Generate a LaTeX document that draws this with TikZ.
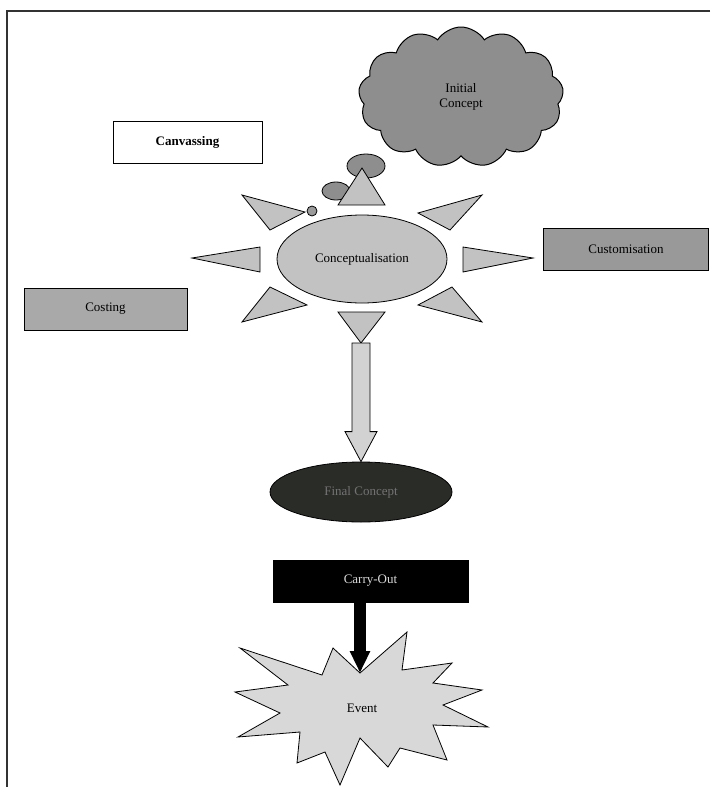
\documentclass[tikz,border=0pt]{standalone}
\usepackage{fontspec}
\setmainfont{Liberation Serif}
\usetikzlibrary{shapes.geometric,shapes.symbols,arrows.meta,calc}
\definecolor{cloudgray}{HTML}{8E8E8E}
\definecolor{raygray}{HTML}{C2C2C2}
\definecolor{boxgray}{HTML}{A9A9A9}
\definecolor{custgray}{HTML}{999999}
\definecolor{darkfill}{HTML}{2A2C28}
\definecolor{eventgray}{HTML}{D8D8D8}
\definecolor{arrowgray}{HTML}{D2D2D2}
\begin{document}
\begin{tikzpicture}[x=1pt,y=-1pt,
  font=\fontsize{13}{15}\selectfont,
  outline/.style={draw=black, line width=0.8pt},
  labelbox/.style={outline, rectangle, minimum height=42pt, inner sep=2pt},
  ray/.style={outline, fill=raygray, line join=miter},
  bubble/.style={outline, fill=cloudgray},
]
\useasboundingbox (0,0) rectangle (710,787);

% frame
\draw[line width=1.6pt, black!80] (710,11) -- (7,11) -- (7,787);

% thought cloud and bubbles
\node[cloud, cloud puffs=13, cloud puff arc=115, aspect=1.45, outline, line width=1pt,
      fill=cloudgray, minimum width=205pt, minimum height=140pt, inner sep=0pt,
      align=center] (cloud) at (461,97) {Initial\\Concept};
\draw[bubble] (366,166) ellipse [x radius=19, y radius=12];
\draw[bubble] (336,191) ellipse [x radius=14, y radius=9];

% rays of the sun
\draw[ray] (362,168) -- (385,205) -- (338,205) -- cycle;
\draw[ray] (242,195) -- (305,212) -- (270,230) -- cycle;
\draw[ray] (482,195) -- (418,213) -- (450,230) -- cycle;
\draw[ray] (192,258) -- (260,247) -- (260,272) -- cycle;
\draw[ray] (533,258) -- (463,247) -- (463,272) -- cycle;
\draw[ray] (242,322) -- (307,305) -- (270,287) -- cycle;
\draw[ray] (482,322) -- (418,305) -- (452,287) -- cycle;
\draw[ray] (338,312) -- (385,312) -- (361,343) -- cycle;
\coordinate (bt) at (361,343);
\draw[bubble, fill=raygray!80!black] (312,211) circle [radius=5];

% central ellipse
\node[ellipse, outline, fill=raygray, minimum width=170pt, minimum height=88pt,
      inner sep=0pt] (concept) at (362,259) {Conceptualisation};

% side boxes
\node[labelbox, fill=white, minimum width=149pt, font=\fontsize{13}{15}\selectfont\bfseries]
      (canv) at (187.5,142) {Canvassing};
\node[labelbox, fill=boxgray, minimum width=163pt] (cost) at (105.5,309) {Costing};
\node[labelbox, fill=custgray, minimum width=165pt] (cust) at (626,249) {Customisation};

% final concept
\node[ellipse, outline, fill=darkfill, text=black!55, minimum width=182pt,
      minimum height=60pt, inner sep=0pt] (final) at (361,492) {Final Concept};

% block arrow from conceptualisation to final concept
\draw[outline, fill=arrowgray, line join=miter]
  ($(bt)+(-9,0)$) -- ($(bt)+(9,0)$) -- ($(final.north)+(9,-30)$)
  -- ($(final.north)+(16,-30)$) -- (final.north) -- ($(final.north)+(-16,-30)$)
  -- ($(final.north)+(-9,-30)$) -- cycle;

% carry-out
\node[labelbox, fill=black, text=black!15, minimum width=195pt] (carry) at (370.5,581) {Carry-Out};

% event starburst
\coordinate (evtip) at (360,673);
\draw[outline, fill=eventgray, line join=miter]
  (240,648) -- (322,675) -- (333,648) -- (evtip) -- (407,632) -- (402,670)
  -- (452,663) -- (433,683) -- (482,690) -- (443,705) -- (488,727)
  -- (433,725) -- (447,760) -- (400,748) -- (388,767) -- (360,738)
  -- (340,785) -- (325,752) -- (297,763) -- (300,732) -- (238,737)
  -- (280,713) -- (235,692) -- (288,685) -- cycle;
\node (event) at (362,708) {Event};

\draw[line width=12pt, -{Triangle[width=19pt,length=22pt]}]
  (carry.south -| evtip) -- (evtip);
\end{tikzpicture}
\end{document}
